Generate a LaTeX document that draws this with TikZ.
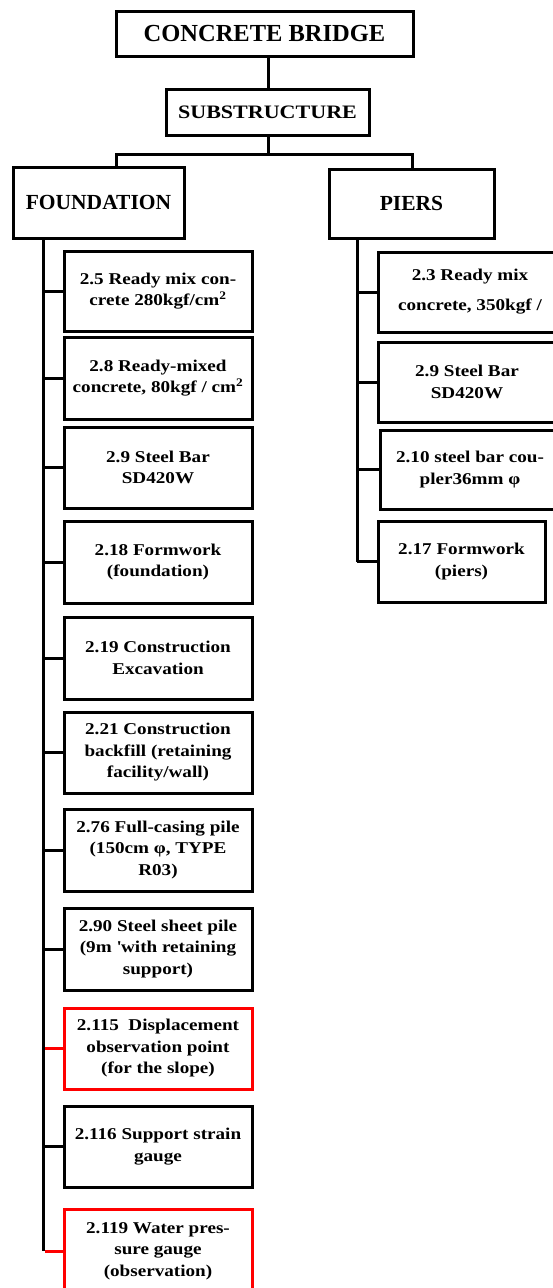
\documentclass[tikz,border=0pt]{standalone}
\usepackage{fontspec}
\setmainfont{Liberation Serif}
\newfontfamily\widefont{Liberation Serif}[FakeStretch=1.16]
\tikzset{
  box/.style={draw, line width=3pt, inner sep=0pt, align=center, fill=white},
  item/.style={box, font=\widefont\bfseries\fontsize{16.5}{21.5}\selectfont},
  redbox/.style={item, draw=red},
  link/.style={line width=3pt},
  redlink/.style={line width=3pt, draw=red}
}
\begin{document}
\begin{tikzpicture}[x=1pt,y=-1pt]
\useasboundingbox (0,0) rectangle (553,1288);
\clip (0,0) rectangle (553,1288);
% top levels
\node[box, minimum width=297, minimum height=45, font=\bfseries\fontsize{24.5}{28}\selectfont] (cb) at (264.5,33.5) {CONCRETE BRIDGE};
\node[box, minimum width=203, minimum height=46, font=\widefont\bfseries\fontsize{19}{23}\selectfont] (sub) at (267.5,112) {SUBSTRUCTURE};
\node[box, minimum width=171, minimum height=71, font=\bfseries\fontsize{21.5}{25}\selectfont] (fnd) at (98.5,202.5) {FOUNDATION};
\node[box, minimum width=165, minimum height=69, font=\bfseries\fontsize{21.5}{25}\selectfont] (prs) at (411.5,203.5) {PIERS};
\coordinate (bus) at (268,154);
\coordinate (tf) at (43,238);
\coordinate (tp) at (357,238);
\draw[link] (cb.south -| bus) -- (sub.north -| bus);
\draw[link] (sub.south -| bus) -- (bus);
\draw[link] (fnd.north -| 116,0) |- (bus) -| (prs.north -| 412,0);
% foundation children
\node[item, minimum width=188, minimum height=80] (f1) at (158,291) {2.5 Ready mix con-\\crete 280kgf/cm\textsuperscript{2}};
\node[item, minimum width=188, minimum height=82] (f2) at (158,378) {2.8 Ready-mixed\\concrete, 80kgf / cm\textsuperscript{2}};
\node[item, minimum width=188, minimum height=81] (f3) at (158,467.5) {2.9 Steel Bar\\SD420W};
\node[item, minimum width=188, minimum height=82] (f4) at (158,562) {2.18 Formwork\\(foundation)};
\node[item, minimum width=188, minimum height=82] (f5) at (158,658) {2.19 Construction\\Excavation};
\node[item, minimum width=188, minimum height=81] (f6) at (158,752.5) {2.21 Construction\\backfill (retaining\\facility/wall)};
\node[item, minimum width=188, minimum height=82] (f7) at (158,850) {2.76 Full-casing pile\\(150cm φ, TYPE\\R03)};
\node[item, minimum width=188, minimum height=82] (f8) at (158,949) {2.90 Steel sheet pile\\(9m \textquotesingle with retaining\\support)};
\node[redbox, minimum width=188, minimum height=81] (f9) at (158,1048.5) {2.115\ \ Displacement\\observation point\\(for the slope)};
\node[item, minimum width=188, minimum height=81] (f10) at (158,1146.5) {2.116 Support strain\\gauge};
\node[redbox, minimum width=188, minimum height=84] (f11) at (158,1251) {2.119 Water pres-\\sure gauge\\(observation)};
\draw[link] (tf) -- (tf |- f11.west);
\foreach \n in {f1,f2,f3,f4,f5,f6,f7,f8,f10}{
  \draw[link] (tf |- \n.west) -- (\n.west);
}
\draw[redlink] ([xshift=1.5pt]tf |- f9.west) -- (f9.west);
\draw[redlink] ([xshift=1.5pt]tf |- f11.west) -- (f11.west);
% piers children
\node[item, minimum width=184, minimum height=80, font=\widefont\bfseries\fontsize{16.5}{30}\selectfont] (p1) at (470,292) {2.3 Ready mix\\concrete, 350kgf /};
\node[item, minimum width=178, minimum height=80] (p2) at (467,382) {2.9 Steel Bar\\SD420W};
\node[item, minimum width=180, minimum height=79] (p3) at (470,469.5) {2.10 steel bar cou-\\pler36mm φ};
\node[item, minimum width=167, minimum height=81] (p4) at (461.5,561.5) {2.17 Formwork\\(piers)};
\draw[link] (tp) -- (tp |- p4.west);
\foreach \n in {p1,p2,p3,p4}{
  \draw[link] (tp |- \n.west) -- (\n.west);
}
\end{tikzpicture}
\end{document}
